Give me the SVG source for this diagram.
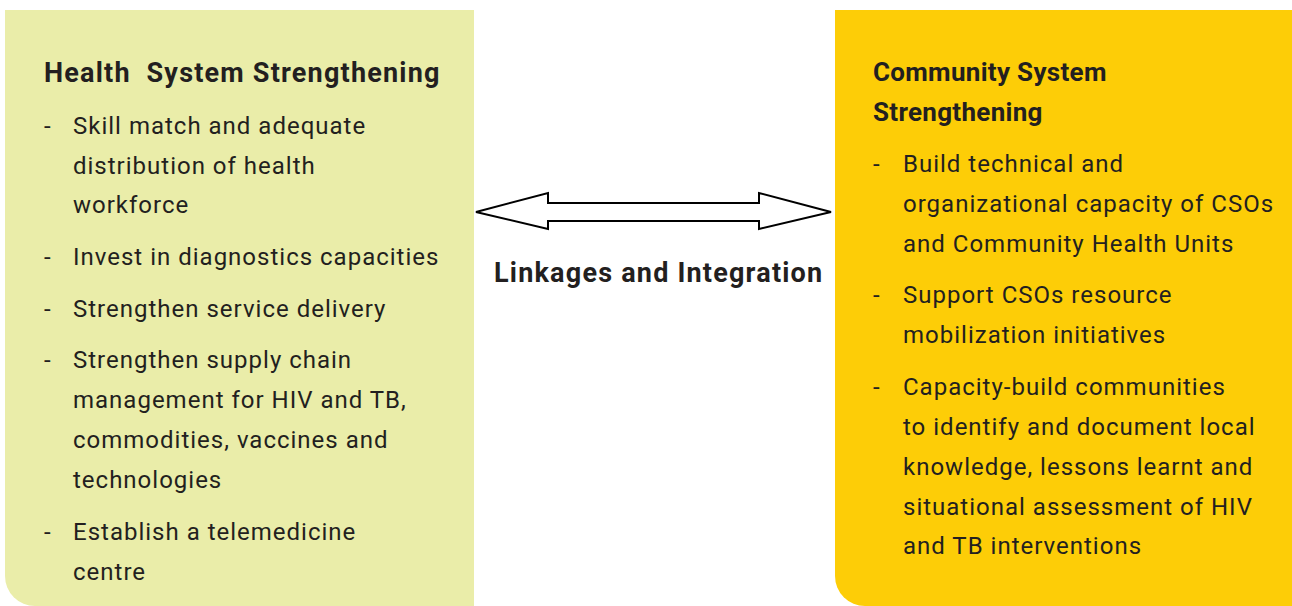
<svg xmlns="http://www.w3.org/2000/svg" width="1292" height="606" viewBox="0 0 1292 606">
<style>
text{font-family:Roboto,"DejaVu Sans",sans-serif;fill:#231f20}
.t{font-size:27px;font-weight:bold;letter-spacing:1.2px}
.t2{font-size:26px;font-weight:bold;letter-spacing:0.3px}
.l{font-size:27px;font-weight:bold;letter-spacing:1.2px}
.b{font-size:24px;letter-spacing:1px}
</style>
<rect width="1292" height="606" fill="#fff"/>
<g id="health">
<path d="M5 10H474V606H35A30 30 0 0 1 5 576Z" fill="#eaeda9"/>
<text class="t" x="44" y="82" xml:space="preserve">Health  System Strengthening</text>
<g class="b">
<text x="44" y="134">-</text><text x="73" y="134">Skill match and adequate</text>
<text x="73" y="174">distribution of health</text>
<text x="73" y="213">workforce</text>
<text x="44" y="265">-</text><text x="73" y="265">Invest in diagnostics capacities</text>
<text x="44" y="317">-</text><text x="73" y="317">Strengthen service delivery</text>
<text x="44" y="368">-</text><text x="73" y="368">Strengthen supply chain</text>
<text x="73" y="408">management for HIV and TB,</text>
<text x="73" y="448">commodities, vaccines and</text>
<text x="73" y="488">technologies</text>
<text x="44" y="540">-</text><text x="73" y="540">Establish a telemedicine</text>
<text x="73" y="580">centre</text>
</g>
</g>
<g id="community">
<path d="M835 10H1292V606H865A30 30 0 0 1 835 576Z" fill="#fdcd07"/>
<text class="t2" x="873" y="81">Community System</text>
<text class="t2" x="873" y="121">Strengthening</text>
<g class="b">
<text x="873" y="172">-</text><text x="903" y="172">Build technical and</text>
<text x="903" y="212">organizational capacity of CSOs</text>
<text x="903" y="252">and Community Health Units</text>
<text x="873" y="303">-</text><text x="903" y="303">Support CSOs resource</text>
<text x="903" y="343">mobilization initiatives</text>
<text x="873" y="395">-</text><text x="903" y="395">Capacity-build communities</text>
<text x="903" y="435">to identify and document local</text>
<text x="903" y="475">knowledge, lessons learnt and</text>
<text x="903" y="515">situational assessment of HIV</text>
<text x="903" y="554">and TB interventions</text>
</g>
</g>
<g id="connectors">
<path d="M476 212L548 193V203H759V193L831 212L759 229V221H548V229Z" fill="#fff" stroke="#000" stroke-width="2" stroke-linejoin="miter"/>
</g>
<g id="label">
<text class="l" x="494" y="282">Linkages and Integration</text>
</g>
</svg>
